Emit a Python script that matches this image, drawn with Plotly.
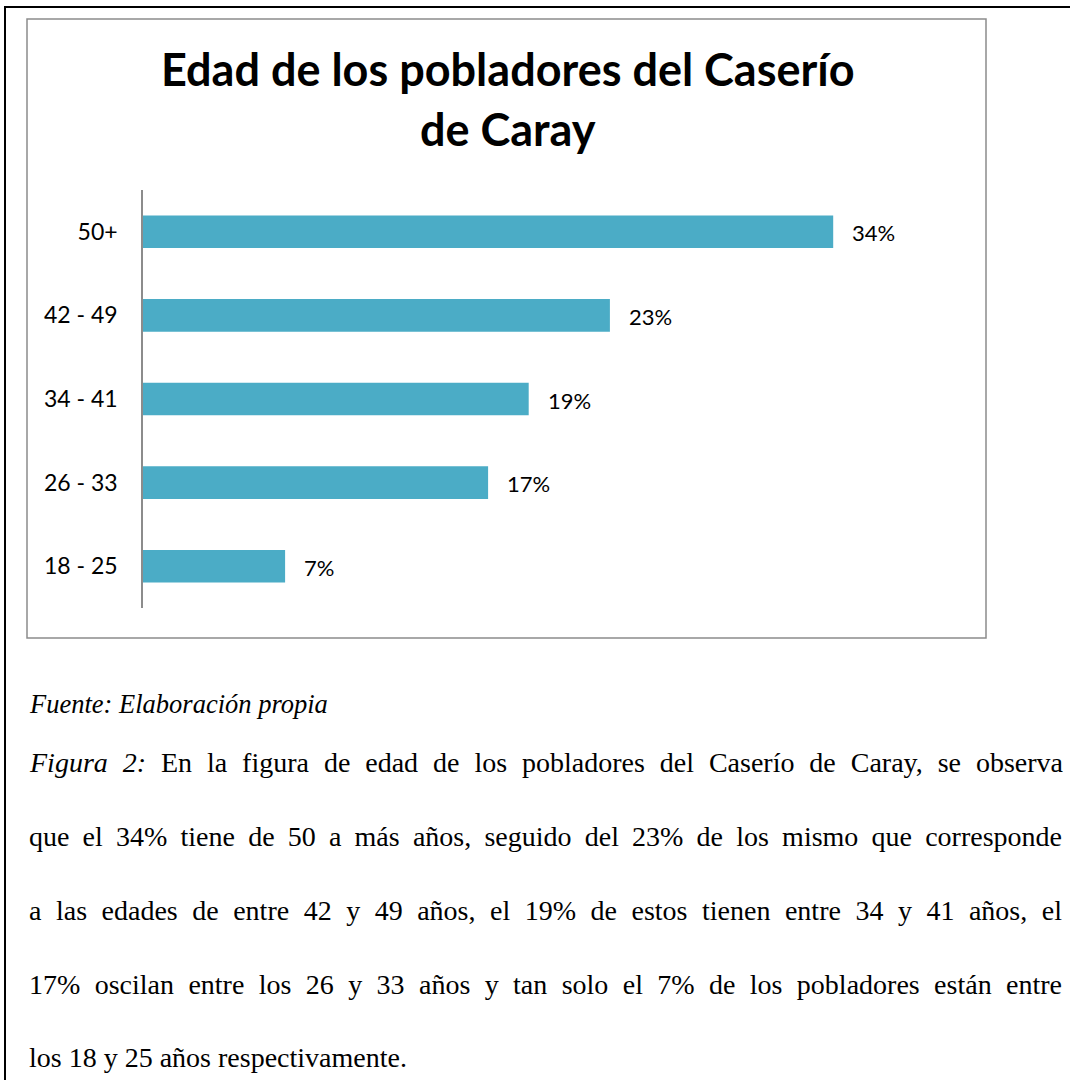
import json
import plotly.graph_objects as go

# ---- data ----
categories = ["18 - 25", "26 - 33", "34 - 41", "42 - 49", "50+"]
values = [7, 17, 19, 23, 34]
value_labels = ["7%", "17%", "19%", "23%", "34%"]

title_lines = ["Edad de los pobladores del Caserío", "de Caray"]
source_text = "<i>Fuente: Elaboración propia</i>"
body_lines = [
    "<i>Figura 2:</i> En la figura de edad de los pobladores del Caserío de Caray, se observa",
    "que el 34% tiene de 50 a más años, seguido del 23% de los mismo que corresponde",
    "a las edades de entre 42 y 49 años, el 19% de estos tienen entre 34 y 41 años, el",
    "17% oscilan entre los 26 y 33 años y tan solo el 7% de los pobladores están entre",
    "los 18 y 25 años respectivamente.",
]

# ---- layout geometry (pixels) ----
W, H = 1070, 1080
L, R_EDGE, T, B_EDGE = 143, 955, 190, 608
PW, PH = R_EDGE - L, B_EDGE - T


def px_x(px):
    return (px - L) / PW


def px_y(py):
    return (B_EDGE - py) / PH


BAR_COLOR = "#4BACC6"
SANS = "Lato, 'Open Sans', sans-serif"
SERIF = "'Liberation Serif', 'Times New Roman', serif"

fig = go.Figure()
fig.add_trace(go.Bar(
    x=values, y=categories, orientation="h",
    marker=dict(color=BAR_COLOR, line=dict(width=0)),
    width=0.39, hoverinfo="skip",
))

annotations = []
# data labels
for v, c, lab in zip(values, categories, value_labels):
    annotations.append(dict(
        x=v, y=c, xref="x", yref="y", text=lab, showarrow=False,
        xanchor="left", yanchor="middle", xshift=17, yshift=-1,
        font=dict(family=SANS, size=22, color="#000000"),
    ))

# title lines
title_centers = [69, 129]
for txt, cy in zip(title_lines, title_centers):
    annotations.append(dict(
        x=px_x(508), y=px_y(cy), xref="paper", yref="paper", text=txt,
        showarrow=False, xanchor="center", yanchor="middle",
        font=dict(family=SANS, size=45, color="#000000", weight="bold"),
    ))

# source line
annotations.append(dict(
    x=px_x(27), y=px_y(704), xref="paper", yref="paper", text=source_text,
    showarrow=False, xanchor="left", yanchor="middle", align="left",
    font=dict(family=SERIF, size=26.5, color="#000000"),
))

# body lines
body_centers = [762, 836, 910, 984, 1057]
justify = {}
for i, (txt, cy) in enumerate(zip(body_lines, body_centers)):
    if i < len(body_lines) - 1:
        justify[len(annotations)] = 1033
    annotations.append(dict(
        x=px_x(27), y=px_y(cy), xref="paper", yref="paper", text=txt,
        showarrow=False, xanchor="left", yanchor="middle", align="left",
        font=dict(family=SERIF, size=28, color="#000000"),
    ))

shapes = [
    # outer page frame (left and top edges visible)
    dict(type="line", xref="paper", yref="paper",
         x0=px_x(5), x1=px_x(5), y0=px_y(6), y1=px_y(1200),
         line=dict(color="#000000", width=2)),
    dict(type="line", xref="paper", yref="paper",
         x0=px_x(4), x1=px_x(1200), y0=px_y(7), y1=px_y(7),
         line=dict(color="#000000", width=2)),
    # chart border
    dict(type="rect", xref="paper", yref="paper",
         x0=px_x(27), x1=px_x(986), y0=px_y(19), y1=px_y(638),
         line=dict(color="#8C8C8C", width=1.5), fillcolor="rgba(0,0,0,0)"),
]

fig.update_layout(
    width=W, height=H,
    margin=dict(l=L, r=W - R_EDGE, t=T, b=H - B_EDGE, pad=0),
    paper_bgcolor="white", plot_bgcolor="white",
    showlegend=False,
    annotations=annotations, shapes=shapes,
    xaxis=dict(range=[0, 40], visible=False, fixedrange=True),
    yaxis=dict(
        categoryorder="array", categoryarray=categories,
        range=[-0.5, len(categories) - 0.5], fixedrange=True,
        showline=True, linecolor="#8C8C8C", linewidth=1.5,
        showgrid=False, zeroline=False, ticks="", ticklabelstandoff=19,
        tickfont=dict(family=SANS, size=23, color="#000000"),
    ),
)

post_script = """
document.body.style.margin = '0';
document.body.style.overflow = 'hidden';
var gd = document.getElementById('{plot_id}');
var targets = %s;
gd.querySelectorAll('g.annotation').forEach(function(g){
  var idx = g.getAttribute('data-index');
  if (targets[idx] !== undefined) {
    var t = g.querySelector('text.annotation-text');
    var txt = t.textContent;
    var n = (txt.match(/ /g) || []).length;
    var w = t.getComputedTextLength();
    if (n > 0) { t.style.wordSpacing = ((targets[idx] - w) / n) + 'px'; }
  }
});
""" % json.dumps({str(k): v for k, v in justify.items()})

fig.write_html("out.html", post_script=post_script,
               config={"displayModeBar": False})
